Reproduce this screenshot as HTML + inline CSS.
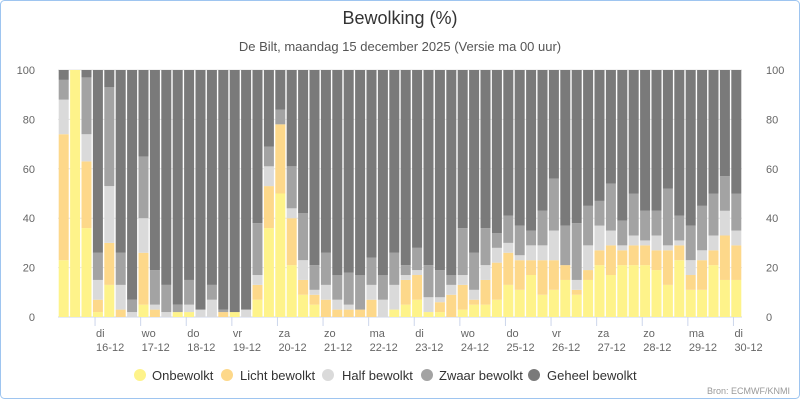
<!DOCTYPE html>
<html><head><meta charset="utf-8"><style>
body{margin:0;background:#fff}
svg{display:block;font-family:"Liberation Sans","DejaVu Sans",sans-serif}
</style></head><body>
<svg id="chart" width="800" height="400" viewBox="0 0 800 400">
<rect x="0.5" y="0.5" width="799" height="398" rx="4" fill="#fff" stroke="#9ec5f0"/>
<text x="400" y="24" text-anchor="middle" font-size="18" fill="#333">Bewolking (%)</text>
<text x="400" y="51" text-anchor="middle" font-size="13" fill="#555">De Bilt, maandag 15 december 2025 (Versie ma 00 uur)</text>
<g id="grid"></g><g id="bars"></g><g id="axes"></g>
<g font-size="13" fill="#333">
<g><circle cx="140" cy="375" r="6" fill="#fef38a"/><text x="152" y="380">Onbewolkt</text></g>
<g><circle cx="227" cy="375" r="6" fill="#fdd88a"/><text x="240" y="380">Licht bewolkt</text></g>
<g><circle cx="328" cy="375" r="6" fill="#dadada"/><text x="342" y="380">Half bewolkt</text></g>
<g><circle cx="427" cy="375" r="6" fill="#a3a3a3"/><text x="439" y="380">Zwaar bewolkt</text></g>
<g><circle cx="534" cy="375" r="6" fill="#7a7a7a"/><text x="547" y="380">Geheel bewolkt</text></g>
</g>
<text x="790" y="394" text-anchor="end" font-size="9" fill="#999">Bron: ECMWF/KNMI</text>
</svg>
<script>
const onbewolkt=[23,100,36,2,13,0,0,5,0,0,2,2,0,0,0,2,0,7,36,50,21,9,5,0,0,0,0,0,0,3,5,7,2,2,0,3,5,5,7,13,11,17,9,11,15,9,15,21,17,21,21,21,19,13,23,11,11,21,15,15];
const licht=[51,0,27,5,17,3,0,21,3,0,0,0,0,0,2,0,0,6,17,28,19,6,4,7,3,3,3,7,0,0,10,10,0,4,9,10,2,10,15,13,12,6,14,12,6,2,4,6,12,6,8,8,8,14,6,6,12,6,18,14];
const half=[14,0,11,8,23,10,2,14,2,2,0,3,3,7,0,0,3,4,8,0,4,8,2,6,4,2,0,6,7,10,2,2,6,2,4,4,4,6,6,4,2,6,6,12,0,4,10,10,6,2,4,2,6,2,2,6,4,6,10,6];
const zwaar=[8,0,23,11,40,13,5,25,14,11,3,10,0,6,1,0,0,21,8,6,17,19,10,13,10,13,14,11,10,13,4,9,13,11,4,19,15,15,6,11,12,6,14,21,16,23,16,10,19,10,17,12,10,23,10,14,18,17,14,15];
const geheel=[4,0,3,74,7,74,93,35,81,87,95,85,97,87,97,98,97,62,31,16,39,58,79,74,83,82,83,76,83,74,79,72,79,81,83,64,74,64,66,59,63,65,57,44,63,62,55,53,46,61,50,57,57,48,59,63,55,50,43,50];
const dayNames=["di","wo","do","vr","za","zo","ma","di","wo","do","vr","za","zo","ma","di"];
const dayDates=["16-12","17-12","18-12","19-12","20-12","21-12","22-12","23-12","24-12","25-12","26-12","27-12","28-12","29-12","30-12"];
const yTicks=[0,20,40,60,80,100];
const series=[onbewolkt,licht,half,zwaar,geheel];
const names=["onbewolkt","licht","half","zwaar","geheel"];
const colors=["#fef38a","#fdd88a","#dadada","#a3a3a3","#7a7a7a"];
const NS="http://www.w3.org/2000/svg";
const L=58,R=742,T=70,B=317,N=onbewolkt.length,bw=(R-L)/N;
const y=v=>B-(B-T)*v/100;
const x=i=>L+bw*i;
function mk(tag,attrs,parent){const e=document.createElementNS(NS,tag);for(const k in attrs)e.setAttribute(k,attrs[k]);parent.appendChild(e);return e;}
const grid=document.getElementById('grid'),bars=document.getElementById('bars'),axes=document.getElementById('axes');
yTicks.forEach(t=>{
 const ln=mk('line',{x1:L,x2:R,y1:y(t),y2:y(t),stroke:t===0?'#ccd6eb':'#e6e6e6'},grid);
 
 
 const a=mk('text',{x:35,y:y(t)+4,'text-anchor':'end','font-size':11,fill:'#666'},axes);a.textContent=t;
 
 
 const b=mk('text',{x:766,y:y(t)+4,'font-size':11,fill:'#666'},axes);b.textContent=t;
 
 
});
for(let i=0;i<N;i++){
 let cum=0;
 series.forEach((s,k)=>{
  const v=s[i];if(v<=0){return;}
  const r=mk('rect',{x:x(i)+0.7,width:bw-1.4,y:y(cum+v),height:y(cum)-y(cum+v),fill:colors[k]},bars);
  
  
  cum+=v;
 });
}
dayNames.forEach((d,j)=>{
 const tx=x(3.25+4*j);
 const tk=mk('line',{x1:tx,x2:tx,y1:B,y2:B+9,stroke:'#ccd6eb'},axes);
 
 
 const t1=mk('text',{x:tx+1,y:337,'font-size':11,fill:'#666'},axes);t1.textContent=d;
 
 
 const t2=mk('text',{x:tx+1,y:351,'font-size':11,fill:'#666'},axes);t2.textContent=dayDates[j];
 
 
});
</script>
</body></html>
